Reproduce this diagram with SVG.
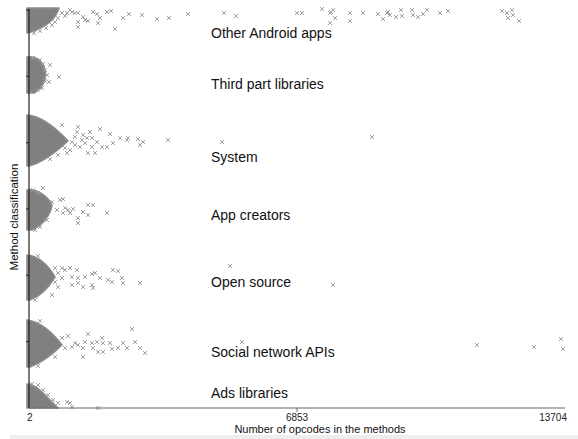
<svg xmlns="http://www.w3.org/2000/svg" xmlns:xlink="http://www.w3.org/1999/xlink" width="578" height="439" viewBox="0 0 578 439">
<style>
.blob{fill:#808080;stroke:#8c8c8c;stroke-width:1.6;stroke-linejoin:round}
.cat{font-family:"Liberation Sans",Arial,sans-serif;font-size:14px;fill:#111}
.tick{font-family:"Liberation Sans",Arial,sans-serif;font-size:10px;fill:#222}
.axl{font-family:"Liberation Sans",Arial,sans-serif;font-size:11px;fill:#111}
.mk use{stroke:#9a9a9a;stroke-width:0.9;fill:none}
</style>
<defs>
<path id="x" d="M-2,-2L2,2M-2,2L2,-2"/>
</defs>
<rect width="578" height="439" fill="#fff"/>
<rect x="10" y="435" width="568" height="4" fill="#eeeeee"/>

<g id="blobs">
<path class="blob" d="M27,8 H59 C56,18 46,27 31,32 L27,33 Z"/>
<path class="blob" d="M27,57 C37,56 43,62 45,70 C47,78 43,88 34,93 L27,93 Z"/>
<path class="blob" d="M27,115 C42,116 56,128 68,141 C56,152 42,163 29,166 L27,166 Z"/>
<path class="blob" d="M27,190 C39,189 48,197 52,205 C51,214 43,225 32,230 L27,230 Z"/>
<path class="blob" d="M27,255 C39,256 49,266 55,277 C49,287 41,296 30,300 L27,300 Z"/>
<path class="blob" d="M27,320 C41,322 53,333 62,345 C53,354 41,363 30,367 L27,367 Z"/>
<path class="blob" d="M27,384 C34,384 40,390 46,396 L58,408 L27,408 Z"/>
</g>

<g id="markers" class="mk">
<use href="#x" x="62" y="13"/><use href="#x" x="67" y="13"/><use href="#x" x="72" y="12"/><use href="#x" x="75" y="13"/><use href="#x" x="78" y="13"/><use href="#x" x="83" y="17"/><use href="#x" x="93" y="12"/><use href="#x" x="97" y="14"/><use href="#x" x="85" y="20"/><use href="#x" x="88" y="21"/><use href="#x" x="78" y="22"/><use href="#x" x="100" y="18"/><use href="#x" x="107" y="12"/><use href="#x" x="111" y="11"/><use href="#x" x="98" y="23"/><use href="#x" x="78" y="27"/><use href="#x" x="123" y="18"/><use href="#x" x="129" y="14"/><use href="#x" x="115" y="29"/><use href="#x" x="142" y="15"/><use href="#x" x="157" y="19"/><use href="#x" x="169" y="18"/><use href="#x" x="188" y="14"/><use href="#x" x="58" y="18"/><use href="#x" x="55" y="22"/><use href="#x" x="52" y="25"/><use href="#x" x="46" y="28"/><use href="#x" x="40" y="31"/><use href="#x" x="34" y="33"/><use href="#x" x="65" y="16"/><use href="#x" x="70" y="10"/>
<use href="#x" x="224" y="13"/><use href="#x" x="236" y="16"/><use href="#x" x="297" y="13"/><use href="#x" x="302" y="13"/><use href="#x" x="322" y="9"/><use href="#x" x="330" y="13"/><use href="#x" x="331" y="12"/><use href="#x" x="333" y="10"/><use href="#x" x="335" y="18"/><use href="#x" x="330" y="23"/><use href="#x" x="350" y="13"/><use href="#x" x="350" y="21"/><use href="#x" x="363" y="13"/><use href="#x" x="378" y="14"/><use href="#x" x="387" y="13"/><use href="#x" x="383" y="19"/><use href="#x" x="390" y="15"/><use href="#x" x="388" y="12"/><use href="#x" x="396" y="17"/><use href="#x" x="402" y="16"/><use href="#x" x="401" y="10"/><use href="#x" x="412" y="10"/><use href="#x" x="413" y="15"/><use href="#x" x="418" y="17"/><use href="#x" x="423" y="14"/><use href="#x" x="427" y="10"/><use href="#x" x="440" y="13"/><use href="#x" x="448" y="11"/><use href="#x" x="502" y="11"/><use href="#x" x="507" y="13"/><use href="#x" x="512" y="10"/><use href="#x" x="513" y="15"/><use href="#x" x="508" y="18"/><use href="#x" x="519" y="21"/>
<use href="#x" x="33" y="58"/><use href="#x" x="40" y="60"/><use href="#x" x="43" y="64"/><use href="#x" x="45" y="70"/><use href="#x" x="47" y="75"/><use href="#x" x="45" y="81"/><use href="#x" x="49" y="82"/><use href="#x" x="42" y="88"/><use href="#x" x="38" y="90"/><use href="#x" x="31" y="92"/><use href="#x" x="59" y="77"/><use href="#x" x="50" y="65"/>
<use href="#x" x="62" y="125"/><use href="#x" x="78" y="127"/><use href="#x" x="77" y="132"/><use href="#x" x="83" y="135"/><use href="#x" x="90" y="132"/><use href="#x" x="100" y="129"/><use href="#x" x="110" y="134"/><use href="#x" x="92" y="138"/><use href="#x" x="97" y="142"/><use href="#x" x="85" y="143"/><use href="#x" x="75" y="145"/><use href="#x" x="72" y="142"/><use href="#x" x="65" y="148"/><use href="#x" x="70" y="150"/><use href="#x" x="80" y="147"/><use href="#x" x="88" y="153"/><use href="#x" x="95" y="153"/><use href="#x" x="102" y="147"/><use href="#x" x="107" y="147"/><use href="#x" x="113" y="143"/><use href="#x" x="120" y="138"/><use href="#x" x="127" y="140"/><use href="#x" x="128" y="138"/><use href="#x" x="138" y="139"/><use href="#x" x="140" y="145"/><use href="#x" x="143" y="142"/><use href="#x" x="168" y="140"/><use href="#x" x="92" y="147"/><use href="#x" x="82" y="140"/><use href="#x" x="67" y="153"/><use href="#x" x="87" y="138"/><use href="#x" x="75" y="137"/><use href="#x" x="58" y="155"/><use href="#x" x="50" y="159"/><use href="#x" x="222" y="142"/><use href="#x" x="372" y="137"/>
<use href="#x" x="43" y="188"/><use href="#x" x="33" y="190"/><use href="#x" x="38" y="193"/><use href="#x" x="60" y="200"/><use href="#x" x="63" y="199"/><use href="#x" x="65" y="208"/><use href="#x" x="68" y="210"/><use href="#x" x="73" y="209"/><use href="#x" x="63" y="213"/><use href="#x" x="70" y="213"/><use href="#x" x="83" y="212"/><use href="#x" x="88" y="205"/><use href="#x" x="93" y="205"/><use href="#x" x="88" y="215"/><use href="#x" x="78" y="218"/><use href="#x" x="78" y="223"/><use href="#x" x="107" y="213"/><use href="#x" x="57" y="210"/><use href="#x" x="35" y="230"/><use href="#x" x="40" y="227"/><use href="#x" x="47" y="220"/><use href="#x" x="52" y="202"/>
<use href="#x" x="55" y="268"/><use href="#x" x="62" y="268"/><use href="#x" x="65" y="270"/><use href="#x" x="70" y="268"/><use href="#x" x="77" y="270"/><use href="#x" x="58" y="273"/><use href="#x" x="62" y="278"/><use href="#x" x="72" y="277"/><use href="#x" x="78" y="278"/><use href="#x" x="85" y="277"/><use href="#x" x="92" y="274"/><use href="#x" x="95" y="273"/><use href="#x" x="100" y="278"/><use href="#x" x="108" y="280"/><use href="#x" x="112" y="282"/><use href="#x" x="113" y="270"/><use href="#x" x="118" y="271"/><use href="#x" x="122" y="278"/><use href="#x" x="123" y="283"/><use href="#x" x="140" y="283"/><use href="#x" x="72" y="285"/><use href="#x" x="78" y="283"/><use href="#x" x="83" y="287"/><use href="#x" x="92" y="285"/><use href="#x" x="93" y="288"/><use href="#x" x="58" y="287"/><use href="#x" x="55" y="282"/><use href="#x" x="52" y="295"/><use href="#x" x="35" y="300"/><use href="#x" x="38" y="256"/><use href="#x" x="230" y="266"/><use href="#x" x="333" y="285"/>
<use href="#x" x="62" y="338"/><use href="#x" x="68" y="336"/><use href="#x" x="75" y="343"/><use href="#x" x="78" y="345"/><use href="#x" x="88" y="334"/><use href="#x" x="85" y="342"/><use href="#x" x="83" y="348"/><use href="#x" x="92" y="343"/><use href="#x" x="93" y="348"/><use href="#x" x="97" y="342"/><use href="#x" x="102" y="338"/><use href="#x" x="103" y="343"/><use href="#x" x="98" y="352"/><use href="#x" x="103" y="352"/><use href="#x" x="110" y="343"/><use href="#x" x="112" y="349"/><use href="#x" x="118" y="348"/><use href="#x" x="123" y="343"/><use href="#x" x="127" y="348"/><use href="#x" x="132" y="329"/><use href="#x" x="135" y="342"/><use href="#x" x="140" y="348"/><use href="#x" x="145" y="353"/><use href="#x" x="83" y="357"/><use href="#x" x="72" y="347"/><use href="#x" x="65" y="348"/><use href="#x" x="55" y="357"/><use href="#x" x="40" y="321"/><use href="#x" x="38" y="366"/><use href="#x" x="242" y="342"/><use href="#x" x="477" y="345"/><use href="#x" x="534" y="347"/><use href="#x" x="561" y="339"/><use href="#x" x="563" y="349"/>
<use href="#x" x="38" y="385"/><use href="#x" x="43" y="390"/><use href="#x" x="48" y="395"/><use href="#x" x="53" y="400"/><use href="#x" x="58" y="403"/><use href="#x" x="67" y="402"/><use href="#x" x="70" y="403"/><use href="#x" x="72" y="407"/><use href="#x" x="98" y="408"/><use href="#x" x="32" y="384"/>
</g>

<g id="axes">
<line x1="29" y1="9" x2="29" y2="408" stroke="#222" stroke-width="1.2"/>
<line x1="29" y1="408" x2="565" y2="408" stroke="#666" stroke-width="1.2"/>
<line x1="297" y1="408" x2="297" y2="412" stroke="#666" stroke-width="1"/>
<path d="M26,10H29M26,76.3H29M26,142.7H29M26,209H29M26,275.3H29M26,341.7H29" stroke="#222" stroke-width="1"/>
<text class="tick" x="27" y="421">2</text>
<text class="tick" x="297" y="421" text-anchor="middle">6853</text>
<text class="tick" x="567" y="421" text-anchor="end">13704</text>
<text class="axl" x="320" y="433" text-anchor="middle">Number of opcodes in the methods</text>
<text class="axl" transform="translate(18,217) rotate(-90)" text-anchor="middle" style="font-size:11.5px">Method classification</text>
</g>

<g id="labels">
<text class="cat" x="211" y="38">Other Android apps</text>
<text class="cat" x="211" y="89">Third part libraries</text>
<text class="cat" x="211" y="162">System</text>
<text class="cat" x="211" y="220">App creators</text>
<text class="cat" x="211" y="287">Open source</text>
<text class="cat" x="211" y="357">Social network APIs</text>
<text class="cat" x="211" y="398">Ads libraries</text>
</g>
</svg>
